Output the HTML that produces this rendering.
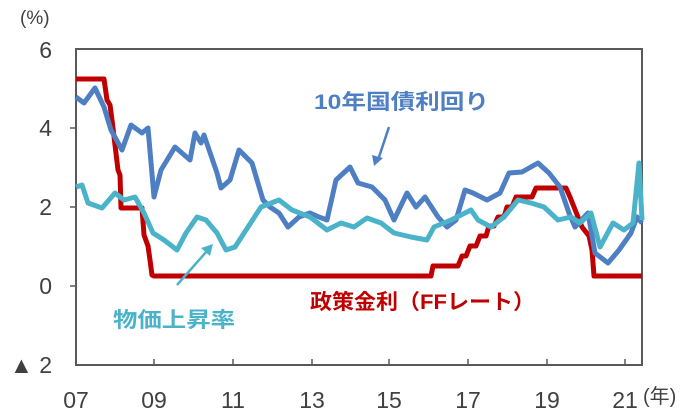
<!DOCTYPE html><html><head><meta charset="utf-8"><style>body{margin:0;background:#fff}svg{display:block}</style></head><body>
<svg width="691" height="414" xmlns="http://www.w3.org/2000/svg" font-family="Liberation Sans, 'Noto Sans CJK JP', sans-serif">
<rect x="76" y="49" width="566" height="316" fill="none" stroke="#595959" stroke-width="2"/>
<g stroke="#595959" stroke-width="1.5">
<line x1="70" y1="286" x2="76" y2="286"/><line x1="70" y1="207" x2="76" y2="207"/><line x1="70" y1="128" x2="76" y2="128"/>
<line x1="154" y1="365" x2="154" y2="359"/><line x1="233" y1="365" x2="233" y2="359"/><line x1="312" y1="365" x2="312" y2="359"/><line x1="389" y1="365" x2="389" y2="359"/><line x1="468" y1="365" x2="468" y2="359"/><line x1="547" y1="365" x2="547" y2="359"/><line x1="625" y1="365" x2="625" y2="359"/>
</g>
<g fill="#404040" font-size="23">
<text x="20" y="24" font-size="19">(%)</text>
<text x="52" y="58" text-anchor="end">6</text><text x="52" y="136" text-anchor="end">4</text><text x="52" y="215" text-anchor="end">2</text><text x="52" y="294" text-anchor="end">0</text><text x="52" y="373" text-anchor="end">▲ 2</text>
<text x="76" y="408" text-anchor="middle">07</text><text x="154" y="408" text-anchor="middle">09</text><text x="233" y="408" text-anchor="middle">11</text><text x="312" y="408" text-anchor="middle">13</text><text x="389" y="408" text-anchor="middle">15</text><text x="468" y="408" text-anchor="middle">17</text><text x="547" y="408" text-anchor="middle">19</text><text x="625" y="408" text-anchor="middle">21</text>
<text x="643" y="403" font-size="20">(年)</text>
</g>
<g fill="none" stroke-width="5" stroke-linejoin="round">
<polyline stroke="#c00000" points="76,79 104,79 107,100 110,105 112,120 115,145 118,170 120,175 121,208 142,208 144,235 148,246 150,260 152,275 154,276 431,276 433,266 458,266 462,256 466,256 470,246 476,246 480,236 486,236 489,226 494,226 498,217 504,217 507,207 512,207 516,197 521,197 525,197 532,197 536,188 566,188 570,197 574,207 578,217 582,227 589,236 592,250 594,276 642,276"/>
<polyline stroke="#4f7fc3" points="76,97 84,103 95,88 104,107 111,130 122,150 131,125 142,133 148,128 154,197 161,170 175,147 190,160 195,133 201,143 204,135 217,173 221,188 230,180 239,150 252,163 263,200 270,207 279,213 288,227 299,217 310,213 319,217 327,220 336,180 350,167 358,183 372,187 385,200 394,220 407,193 416,207 425,197 438,217 447,227 456,220 465,190 473,193 487,200 500,193 509,173 522,172 538,163 549,173 560,187 569,213 575,227 588,213 595,253 608,263 619,250 631,233 637,217 642,223"/>
<polyline stroke="#4bb3c9" points="76,187 82,185 88,203 102,208 115,193 124,200 135,197 144,213 153,233 164,240 177,250 186,233 197,217 206,220 217,233 226,250 235,247 248,227 261,207 279,200 292,210 310,217 327,230 341,223 354,227 367,218 381,223 394,233 411,237 427,240 434,227 451,220 471,210 478,220 491,227 504,217 518,200 531,203 544,207 558,220 571,217 580,223 591,213 600,247 613,223 624,230 633,223 639,163 642,220"/>
</g>
<g stroke-width="2.5" fill="none">
<line x1="389" y1="127" x2="378" y2="160" stroke="#4f7fc3"/><polygon points="374,166 372,155 383,158" fill="#4f7fc3"/>
<line x1="177" y1="285" x2="207" y2="251" stroke="#4bb3c9"/><polygon points="213,244 210,256 201,248" fill="#4bb3c9"/>
</g>
<g font-weight="bold" font-size="21">
<text x="314" y="109" fill="#4f7fc3" textLength="175" lengthAdjust="spacingAndGlyphs">10年国債利回り</text>
<text x="113" y="327" fill="#4bb3c9" textLength="122" lengthAdjust="spacingAndGlyphs">物価上昇率</text>
<text x="310" y="309" fill="#c00000" textLength="225" lengthAdjust="spacingAndGlyphs">政策金利（FFレート）</text>
</g>
</svg></body></html>
